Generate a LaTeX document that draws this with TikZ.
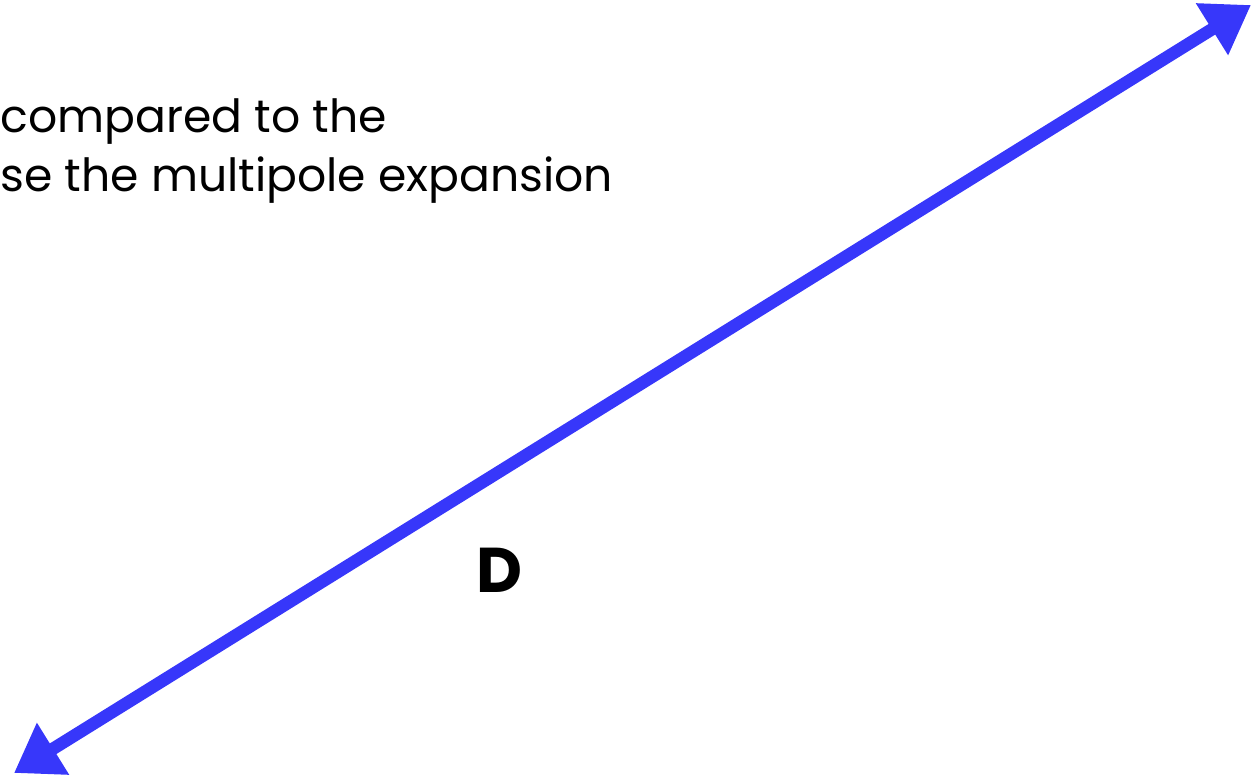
\documentclass[tikz,border=0pt]{standalone}
\usepackage{fontspec}
\setmainfont{Poppins}
\usepackage{xcolor}
\usetikzlibrary{arrows.meta}
\definecolor{dblue}{RGB}{55, 55, 250}

\begin{document}
\begin{tikzpicture}[
      x=0.02cm, y=0.02cm,
      txt/.style={anchor=base west, inner sep=0pt, font=\fontsize{26}{30}\selectfont},
      lbl/.style={inner sep=0pt, font=\fontsize{36}{40}\selectfont\bfseries},
      dist/.style={<->, >={Triangle[length=0.92cm, width=1.16cm]}, line width=0.25cm, dblue},
    ]
      \useasboundingbox (0,0) rectangle (1257,779);
      \clip (0,0) rectangle (1257,779);
      \node[txt] (cmp) at (0,646) {compared to the};
      \node[txt] (mpe) at (0,588) {se the multipole expansion};
      \coordinate (lowend)  at (14,6);
      \coordinate (highend) at (1251,774);
      \draw[dist] (lowend) -- (highend);
      \node[lbl] (dlen) at (499,209) {D};
\end{tikzpicture}
\end{document}
